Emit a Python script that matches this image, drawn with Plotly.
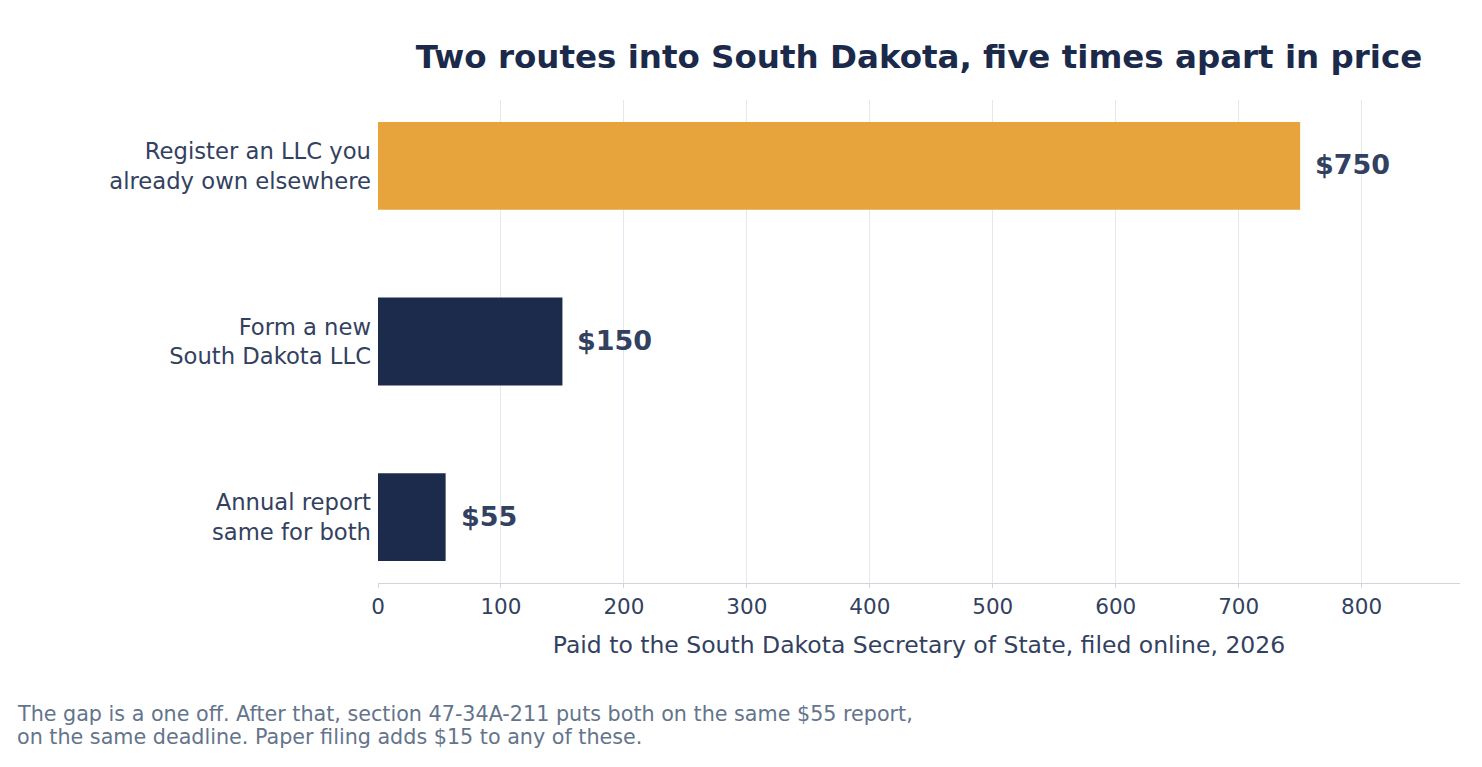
import plotly.graph_objects as go

categories = ["Annual report<br>same for both", "Form a new<br>South Dakota LLC", "Register an LLC you<br>already own elsewhere"]
values = [55, 150, 750]
value_labels = ["$55", "$150", "$750"]
bar_colors = ["#1c2b4b", "#1c2b4b", "#e8a43c"]
footnote_lines = [
    "The gap is a one off. After that, section 47-34A-211 puts both on the same $55 report,",
    "on the same deadline. Paper filing adds $15 to any of these.",
]

FONT = "DejaVu Sans"
TEXT = "#334160"

W, H = 1466, 751
ML, MR, MT, MB = 370, 14, 92, 176
PW = W - ML - MR
PH = H - MT - MB

fig = go.Figure(go.Bar(
    x=values, y=categories, orientation="h",
    marker=dict(color=bar_colors, line=dict(width=0)),
    width=0.5, hoverinfo="skip",
))

for v, c, lab in zip(values, categories, value_labels):
    fig.add_annotation(x=v, y=c, text="<b>%s</b>" % lab, showarrow=False,
                       xanchor="left", yanchor="middle", xshift=13, yshift=1,
                       font=dict(family=FONT, size=27, color=TEXT))

for i, line in enumerate(footnote_lines):
    fig.add_annotation(xref="paper", yref="paper", x=(7 - ML) / PW,
                       y=-(706 + 23 * i - (MT + PH)) / PH,
                       xanchor="left", yanchor="middle", align="left", showarrow=False,
                       text=line, font=dict(family=FONT, size=20.7, color="#64748b"))

fig.update_layout(
    width=W, height=H,
    margin=dict(l=ML, r=MR, t=MT, b=MB),
    paper_bgcolor="white", plot_bgcolor="white",
    showlegend=False,
    font=dict(family=FONT, color=TEXT),
    title=dict(text="<b>Two routes into South Dakota, five times apart in price</b>",
               xref="paper", x=0.5, xanchor="center", y=1 - 49 / H, yanchor="middle",
               font=dict(family=FONT, size=32.5, color="#1b2a4a")),
    xaxis=dict(range=[0, 880], tickvals=[0, 100, 200, 300, 400, 500, 600, 700, 800],
               showgrid=True, gridcolor="#e3e8f0", gridwidth=1,
               zeroline=False, showline=True, linecolor="#cfd6e0", linewidth=1,
               ticks="outside", ticklen=4, tickcolor="#cfd6e0",
               tickfont=dict(family=FONT, size=21.5, color=TEXT),
               title=dict(text="Paid to the South Dakota Secretary of State, filed online, 2026",
                          font=dict(family=FONT, size=23.5, color=TEXT), standoff=18)),
    yaxis=dict(range=[-0.376, 2.376], showgrid=False, zeroline=False, showline=False,
               ticks="", ticklabelstandoff=6,
               tickfont=dict(family=FONT, size=22.7, color=TEXT)),
)

fig.write_html("out.html")
